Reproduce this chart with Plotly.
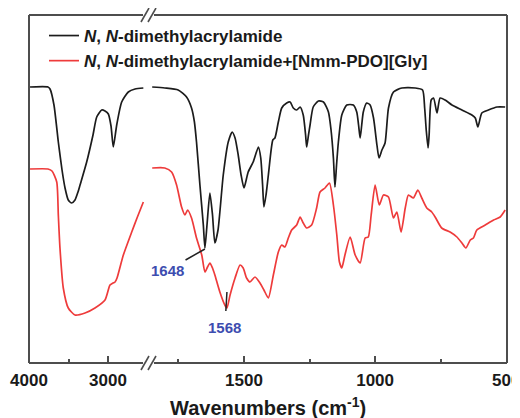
import plotly.graph_objects as go

# ---- data (FTIR spectra, transmittance in arbitrary units, offset for clarity) ----
series_names = ["<i>N</i>, <i>N</i>-dimethylacrylamide",
                "<i>N</i>, <i>N</i>-dimethylacrylamide+[Nmm-PDO][Gly]"]

dmaa_wn = [3987, 3760, 3734, 3684, 3629, 3582, 3544, 3503, 3460, 3418, 3380, 3354, 3270, 3190,
           3143, 3080, 3038, 2996, 2962, 2933, 2890, 2827, 2743, 2658, 2553,
           1850, 1802, 1751, 1719, 1700, 1689, 1681, 1668, 1655, 1649, 1641, 1630, 1620, 1611,
           1599, 1579, 1560, 1545, 1534, 1522, 1511, 1500, 1484, 1465, 1445, 1436, 1429, 1424,
           1416, 1407, 1390, 1382, 1369, 1356, 1337, 1324, 1312, 1299, 1286, 1274, 1265, 1261,
           1254, 1248, 1236, 1216, 1197, 1178, 1168, 1159, 1153, 1147, 1140, 1127, 1108, 1083,
           1070, 1063, 1057, 1051, 1045, 1032, 1019, 1006, 993, 985, 974, 962, 949, 930, 898,
           847, 819, 811, 805, 798, 794, 786, 777, 764, 752, 733, 707, 669, 631, 618, 608, 593,
           568, 535, 504]
dmaa_t = [276, 276, 274, 258, 221, 193, 175, 163, 160, 163, 171, 178, 201, 228,
          246, 253, 252, 249, 237, 216, 238, 261, 271, 274, 275,
          276, 275, 273, 266, 255, 241, 221, 178, 138, 115, 138, 170, 148, 120,
          133, 188, 221, 231, 225, 208, 188, 175, 191, 201, 216, 205, 178, 156,
          168, 188, 223, 225, 241, 255, 260, 261, 255, 253, 256, 248, 228, 216,
          228, 238, 256, 262, 261, 251, 233, 205, 176, 198, 221, 248, 258, 258,
          251, 238, 225, 238, 251, 260, 258, 245, 218, 205, 213, 220, 255, 271, 275,
          275, 273, 255, 233, 215, 228, 263, 265, 250, 265, 263, 258, 253, 248, 245, 236, 250,
          253, 256, 256]

mix_wn = [3987, 3760, 3709, 3649, 3629, 3608, 3566, 3503, 3418, 3291, 3165, 3038, 2975, 2937,
          2911, 2886, 2806, 2700, 2633, 2553,
          1850, 1802, 1776, 1757, 1738, 1725, 1715, 1700, 1681, 1661, 1649, 1639, 1630, 1620,
          1611, 1592, 1573, 1565, 1553, 1534, 1515, 1503, 1490, 1477, 1458, 1439, 1424, 1407,
          1388, 1369, 1356, 1344, 1331, 1318, 1299, 1286, 1274, 1261, 1242, 1223, 1210, 1191,
          1174, 1159, 1146, 1136, 1127, 1115, 1095, 1076, 1057, 1038, 1026, 1015, 1000, 984,
          968, 949, 930, 917, 901, 885, 873, 854, 837, 822, 803, 784, 771, 746, 714, 688, 669,
          654, 637, 625, 612, 580, 548, 523, 504]
mix_t = [194, 194, 192, 181, 148, 115, 75, 55, 48, 50, 55, 63, 78, 80,
         81, 85, 108, 131, 145, 161,
         195, 195, 191, 178, 156, 148, 153, 145, 125, 108, 91, 96, 100, 95,
         88, 71, 58, 55, 68, 85, 98, 95, 85, 81, 86, 80, 73, 65,
         88, 111, 118, 116, 125, 133, 138, 146, 140, 135, 138, 155, 171, 175,
         180, 158, 128, 101, 95, 108, 126, 108, 100, 125, 126, 148, 178, 158,
         168, 166, 145, 151, 131, 155, 168, 165, 173, 165, 155, 151, 146, 135, 131, 126, 120,
         115, 123, 125, 133, 138, 143, 146, 153]

peak_labels = ["1648", "1568"]
peak_wn = [1649, 1565]
peak_t = [114, 71]

ticks_left = [4000, 3000]
ticks_right = [1500, 1000, 500]
minor_left = [3500]
minor_right = [1750, 1250, 750]

colors = ["#1c1c1c", "#ee3b3b"]
FONT = "Liberation Sans, Arial"

# ---- figure ----
fig = go.Figure()
BREAK = 2200
for i, (wn, t) in enumerate([(dmaa_wn, dmaa_t), (mix_wn, mix_t)]):
    lx = [w for w in wn if w > BREAK]
    ly = [v for w, v in zip(wn, t) if w > BREAK]
    rx = [w for w in wn if w <= BREAK]
    ry = [v for w, v in zip(wn, t) if w <= BREAK]
    fig.add_trace(go.Scatter(x=lx, y=ly, mode="lines", name=series_names[i],
                             line=dict(color=colors[i], width=1.7, shape="spline", smoothing=0.6),
                             legendgroup=f"g{i}", xaxis="x", yaxis="y"))
    fig.add_trace(go.Scatter(x=rx, y=ry, mode="lines", name=series_names[i], showlegend=False,
                             line=dict(color=colors[i], width=1.7, shape="spline", smoothing=0.6),
                             legendgroup=f"g{i}", xaxis="x2", yaxis="y"))

# page renders the figure with an 8px body margin; target page pixels below
OFF = 8
W, H = 520 - OFF, 418 - OFF
PL, PR, PT, PB = 29, 507, 15, 363          # plot-area edges in page pixels
L, T = PL - OFF, PT - OFF
R, B = W - (PR - OFF), H - (PB - OFF)
pw, ph = PR - PL, PB - PT
split = (148 - PL) / pw

def px(xp):
    return (xp - PL) / pw

def py(yp):
    return (PB - yp) / ph

axis_common = dict(showline=False, showgrid=False, zeroline=False, ticks="inside",
                   ticklen=7, tickwidth=2, tickcolor="#4d4d4d", ticklabelstandoff=5,
                   ticklabeloverflow="allow",
                   tickfont=dict(family=FONT, size=17, color="#1a1a1a", weight="bold"),
                   minor=dict(ticks="inside", ticklen=4, tickwidth=2, tickcolor="#4d4d4d"))

fig.update_layout(
    width=W, height=H,
    margin=dict(l=L, r=R, t=T, b=B, autoexpand=False),
    paper_bgcolor="white", plot_bgcolor="white",
    xaxis=dict(domain=[0, split], range=[4000, 2494], tickvals=ticks_left,
               ticktext=[str(v) for v in ticks_left], anchor="y",
               **{**axis_common, "minor": dict(axis_common["minor"], tickvals=minor_left)}),
    xaxis2=dict(domain=[split, 1], range=[1866, 497], tickvals=ticks_right,
                ticktext=[str(v) for v in ticks_right], anchor="y",
                **{**axis_common, "minor": dict(axis_common["minor"], tickvals=minor_right)}),
    yaxis=dict(range=[0, 348], visible=False, domain=[0, 1]),
    showlegend=True,
    legend=dict(x=px(44), y=py(18), xanchor="left", yanchor="top",
                bgcolor="rgba(0,0,0,0)", traceorder="grouped", tracegroupgap=0,
                font=dict(family=FONT, size=17, color="#1a1a1a", weight="bold")),
)

# frame with axis break
fc, fw = "#4d4d4d", 2
gl, gr = px(143), px(154)
for (x0, y0, x1, y1) in [(0, 0, 0, 1), (1, 0, 1, 1), (0, 0, gl, 0), (gr, 0, 1, 0),
                         (0, 1, gl, 1), (gr, 1, 1, 1)]:
    fig.add_shape(type="line", xref="paper", yref="paper", x0=x0, y0=y0, x1=x1, y1=y1,
                  line=dict(color=fc, width=fw))
for yc in [15, 363]:
    for xo in [141, 148]:
        fig.add_shape(type="line", xref="paper", yref="paper",
                      x0=px(xo), y0=py(yc + 7), x1=px(xo + 8), y1=py(yc - 7),
                      line=dict(color=fc, width=1.6))

# peak annotations
fig.add_annotation(x=peak_wn[0], y=peak_t[0], xref="x2", yref="y", text=f"<b>{peak_labels[0]}</b>",
                   showarrow=True, arrowhead=0, arrowwidth=1.5, arrowcolor="#222",
                   ax=-37, ay=21, font=dict(family=FONT, size=15, color="#3d4db0"))
fig.add_annotation(x=peak_wn[1], y=peak_t[1], xref="x2", yref="y", text=f"<b>{peak_labels[1]}</b>",
                   showarrow=True, arrowhead=0, arrowwidth=1.5, arrowcolor="#222",
                   ax=-2, ay=35, startstandoff=6,
                   font=dict(family=FONT, size=15, color="#3d4db0"))

# x axis title (spans both segments)
fig.add_annotation(x=0.5, y=py(406), xref="paper", yref="paper", showarrow=False,
                   text="<b>Wavenumbers (cm<sup>-1</sup>)</b>", yanchor="middle",
                   font=dict(family=FONT, size=20, color="#1a1a1a"))

fig.write_html("out.html")
